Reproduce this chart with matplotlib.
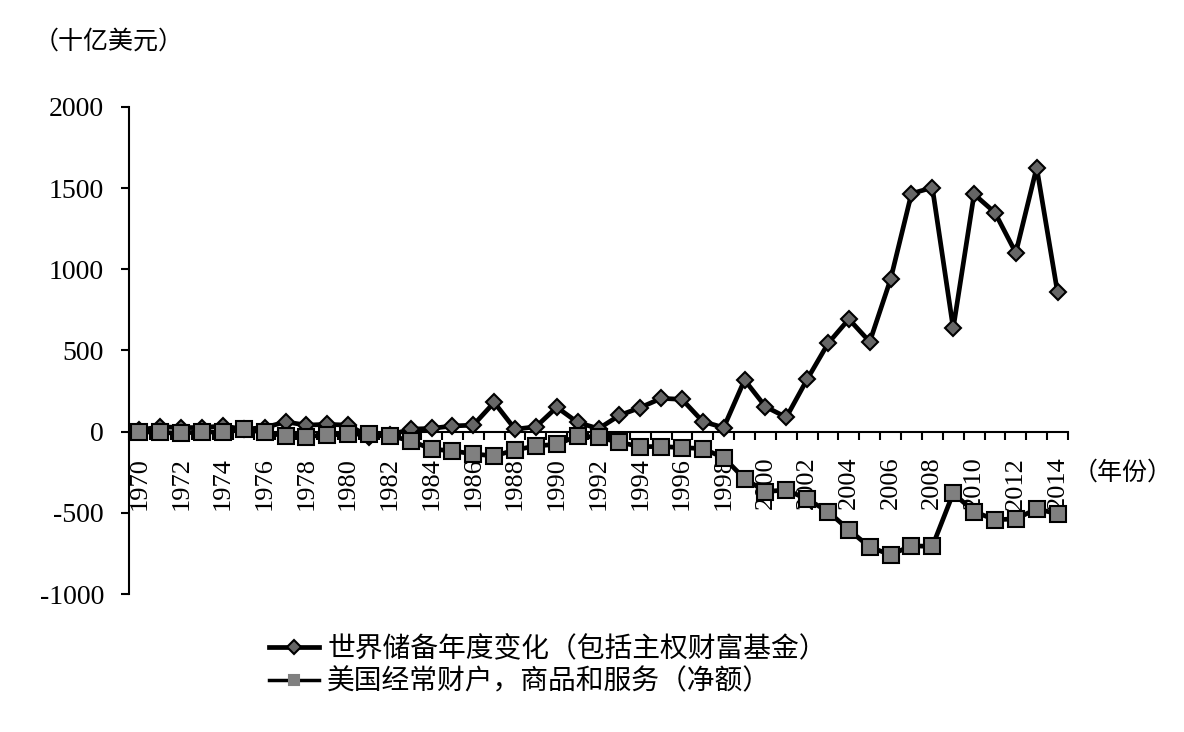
import numpy as np
import matplotlib
matplotlib.use("Agg")
from matplotlib import pyplot as plt

years = list(range(1970, 2015))

# 世界储备年度变化（包括主权财富基金）, 十亿美元
reserves = [10, 30, 25, 25, 35, 15, 25, 60, 40, 45,
            40, -30, -20, 15, 20, 35, 40, 180, 15, 30,
            150, 57, 18, 100, 148, 205, 199, 62, 25, 318,
            154, 88, 322, 543, 693, 553, 939, 1466, 1503, 636,
            1462, 1349, 1101, 1626, 857]

# 美国经常账户，商品和服务（净额）
us_current = [0, -5, -10, 0, -5, 15, -5, -27, -30, -20,
              -16, -15, -25, -57, -107, -119, -137, -150, -113, -88,
              -78, -27, -35, -66, -92, -92, -98, -105, -160, -290,
              -369, -359, -416, -492, -605, -711, -758, -703, -707, -379,
              -492, -543, -537, -476, -506]

label_res = "世界储备年度变化（包括主权财富基金）"
label_us = "美国经常财户，商品和服务（净额）"

cjk = ["Noto Sans CJK SC", "DejaVu Sans"]
num_font = "Liberation Serif"

fig = plt.figure(figsize=(11.84, 7.32), dpi=100)
ax = fig.add_axes([0.109, 0.1885, 0.793, 0.6655])
ax.set_axisbelow(True)

x = np.arange(len(years))
ax.plot(x, reserves, color="black", lw=3.4, marker="D", ms=8,
        mfc="#666666", mec="black", mew=1.5, zorder=3, label=label_res)
ax.plot(x, us_current, color="black", lw=3.4, marker="s", ms=11,
        mfc="#808080", mec="black", mew=1.5, zorder=4, label=label_us)

ax.set_xlim(-0.5, len(years) - 0.5)
ax.set_ylim(-1000, 2000)

for s in ["top", "right"]:
    ax.spines[s].set_visible(False)
ax.spines["bottom"].set_position(("data", 0))
ax.spines["bottom"].set_linewidth(1.5)
ax.spines["left"].set_linewidth(1.5)

ax.set_yticks(np.arange(-1000, 2001, 500))
ax.set_yticklabels([str(v) for v in range(-1000, 2001, 500)],
                   fontfamily=num_font, fontsize=20)
ax.tick_params(axis="y", direction="out", length=6, width=1.5, pad=12)

ax.set_xticks(x[::2])
ax.set_xticklabels([str(y) for y in years[::2]], rotation=90,
                   fontfamily=num_font, fontsize=19)
ax.set_xticks(np.arange(-0.5, len(years), 1.0), minor=True)
ax.tick_params(axis="x", which="major", length=0, pad=18)
ax.tick_params(axis="x", which="minor", direction="out", length=6, width=1.5)

fig.text(0.028, 0.943, "（十亿美元）", fontfamily=cjk, fontsize=18,
         va="center", ha="left")
fig.text(0.906, 0.355, "（年份）", fontfamily=cjk, fontsize=18,
         va="center", ha="left")

leg = fig.legend(loc="upper left", bbox_to_anchor=(269 / 1184, 1 - 634 / 732),
                 frameon=False, borderpad=0, borderaxespad=0,
                 handlelength=1.8, handletextpad=0.3, labelspacing=0.1,
                 prop={"family": cjk, "size": 20})
h_res, h_us = leg.legend_handles
h_res.set_markersize(7)
h_us.set_markersize(7)
h_us.set_markeredgecolor("#808080")
h_us.set_linewidth(2.5)

fig.savefig("out.png", dpi=100)
